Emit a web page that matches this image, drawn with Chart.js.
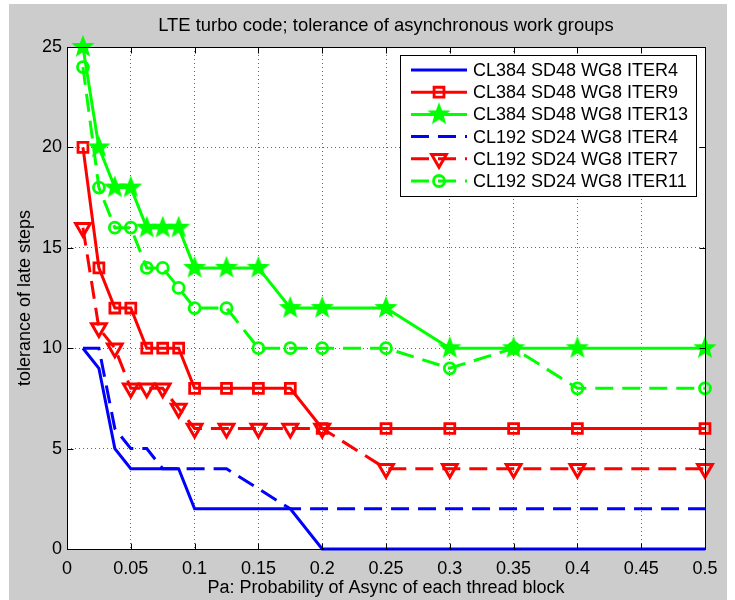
<!DOCTYPE html>
<html>
<head>
<meta charset="utf-8">
<script src="https://cdn.jsdelivr.net/npm/chart.js@4.4.0/dist/chart.umd.min.js"></script>
<style>
  body { margin: 0; background: #fff; }
  #wrap { width: 735px; height: 600px; }
</style>
</head>
<body>
<div id="wrap"><canvas id="lteChart" width="735" height="600"></canvas></div>
<script>
// probability values on the x axis
const pa = [0.0125, 0.025, 0.0375, 0.05, 0.0625, 0.075, 0.0875, 0.1, 0.125, 0.15, 0.175, 0.2, 0.25, 0.3, 0.35, 0.4, 0.5];

// tolerance of late steps, one list per configuration
const cl384Iter4  = [10, 9, 5, 4, 4, 4, 4, 2, 2, 2, 2, 0, 0, 0, 0, 0, 0];
const cl384Iter9  = [20, 14, 12, 12, 10, 10, 10, 8, 8, 8, 8, 6, 6, 6, 6, 6, 6];
const cl384Iter13 = [25, 20, 18, 18, 16, 16, 16, 14, 14, 14, 12, 12, 12, 10, 10, 10, 10];
const cl192Iter4  = [10, 10, 6, 5, 5, 4, 4, 4, 4, 3, 2, 2, 2, 2, 2, 2, 2];
const cl192Iter7  = [16, 11, 10, 8, 8, 8, 7, 6, 6, 6, 6, 6, 4, 4, 4, 4, 4];
const cl192Iter11 = [24, 18, 16, 16, 14, 14, 13, 12, 12, 10, 10, 10, 10, 9, 10, 8, 8];

const xTicks = [0, 0.05, 0.1, 0.15, 0.2, 0.25, 0.3, 0.35, 0.4, 0.45, 0.5];
const yTicks = [0, 5, 10, 15, 20, 25];

const titulo = 'LTE turbo code; tolerance of asynchronous work groups';
const FONT = 'Liberation Sans, Arial, Helvetica, sans-serif';
const dashes = [18, 9];

// filled five point star used as marker
function hacerEstrella(r, color) {
    const c = document.createElement('canvas');
    const s = Math.ceil(r * 2 + 4);
    c.width = s; c.height = s;
    const g = c.getContext('2d');
    g.beginPath();
    for (let i = 0; i < 10; i++) {
        const rad = i % 2 ? r * 0.42 : r;
        const a = -Math.PI / 2 + i * Math.PI / 5;
        g.lineTo(s / 2 + rad * Math.cos(a), s / 2 + rad * Math.sin(a));
    }
    g.closePath();
    g.fillStyle = color;
    g.fill();
    g.lineWidth = 1.5;
    g.strokeStyle = color;
    g.stroke();
    return c;
}
const estrella = hacerEstrella(10, '#00ff00');

function serie(label, values, color, dash, marker) {
    return Object.assign({
        label: label,
        data: values.map((v, i) => ({ x: pa[i], y: v })),
        borderColor: color,
        backgroundColor: color,
        borderWidth: 3,
        borderDash: dash,
        fill: false,
        tension: 0,
        clip: false,
        pointRadius: 0,
        pointBorderColor: color,
        pointBackgroundColor: 'rgba(0,0,0,0)',
        pointBorderWidth: 2.5
    }, marker);
}

const datasets = [
    serie('CL384 SD48 WG8 ITER4', cl384Iter4, '#0000ff', [], {}),
    serie('CL384 SD48 WG8 ITER9', cl384Iter9, '#ff0000', [], { pointStyle: 'rect', pointRadius: 7, pointBorderWidth: 2.8 }),
    serie('CL384 SD48 WG8 ITER13', cl384Iter13, '#00ff00', [], { pointStyle: estrella, pointRadius: 10 }),
    serie('CL192 SD24 WG8 ITER4', cl192Iter4, '#0000ff', dashes, {}),
    serie('CL192 SD24 WG8 ITER7', cl192Iter7, '#ff0000', dashes, { pointStyle: 'triangle', pointRadius: 8.5, pointRotation: 180, pointBorderWidth: 3 }),
    serie('CL192 SD24 WG8 ITER11', cl192Iter11, '#00ff00', dashes, { pointStyle: 'circle', pointRadius: 5.5, pointBorderWidth: 2.8 })
];
// later series on top, like the original
datasets.forEach((d, i) => d.order = datasets.length - i);

const fondo = {
    id: 'fondo',
    beforeDraw(chart) {
        const c = chart.ctx, a = chart.chartArea;
        c.save();
        c.fillStyle = '#ffffff';
        c.fillRect(0, 0, chart.width, chart.height);
        c.fillStyle = '#cccccc';
        c.fillRect(9, 4, 718, chart.height - 4);
        c.fillStyle = '#ffffff';
        c.fillRect(a.left, a.top, a.right - a.left, a.bottom - a.top);
        c.fillStyle = '#000';
        c.font = '18.4px ' + FONT;
        c.textAlign = 'center';
        c.textBaseline = 'middle';
        c.fillText(titulo, (a.left + a.right) / 2, 26);
        c.restore();
    }
};

const caja = {
    id: 'caja',
    afterDraw(chart) {
        const c = chart.ctx, a = chart.chartArea;
        const sx = chart.scales.x, sy = chart.scales.y;
        const L = Math.round(a.left) + 0.5, R = Math.round(a.right) + 0.5;
        const T = Math.round(a.top) + 0.5, B = Math.round(a.bottom) + 0.5;
        c.save();
        c.strokeStyle = '#000';
        c.lineWidth = 1;
        c.setLineDash([]);
        c.strokeRect(L, T, R - L, B - T);
        c.beginPath();
        xTicks.forEach(t => {
            const px = Math.round(sx.getPixelForValue(t)) + 0.5;
            c.moveTo(px, B); c.lineTo(px, B - 6);
            c.moveTo(px, T); c.lineTo(px, T + 6);
        });
        yTicks.forEach(t => {
            const py = Math.round(sy.getPixelForValue(t)) + 0.5;
            c.moveTo(L, py); c.lineTo(L + 6, py);
            c.moveTo(R, py); c.lineTo(R - 6, py);
        });
        c.stroke();

        // legend box inside the plot
        const bx = 400.5, by = 55.5, bw = 296, bh = 141;
        c.fillStyle = '#fff';
        c.fillRect(bx, by, bw, bh);
        c.strokeRect(bx, by, bw, bh);
        c.font = '18px ' + FONT;
        c.textBaseline = 'middle';
        c.textAlign = 'left';
        chart.data.datasets.forEach((d, i) => {
            const y = 70 + i * 22.2;
            c.save();
            c.strokeStyle = d.borderColor;
            c.lineWidth = d.borderWidth;
            c.setLineDash(d.borderDash);
            c.beginPath();
            c.moveTo(411, y); c.lineTo(467, y);
            c.stroke();
            c.restore();
            if (d.pointRadius > 0) {
                c.save();
                c.strokeStyle = d.pointBorderColor;
                c.fillStyle = d.pointBackgroundColor;
                c.lineWidth = d.pointBorderWidth;
                Chart.helpers.drawPoint(c, {
                    pointStyle: d.pointStyle,
                    radius: d.pointRadius,
                    rotation: d.pointRotation || 0,
                    borderWidth: d.pointBorderWidth
                }, 439, y);
                c.restore();
            }
            c.fillStyle = '#000';
            c.fillText(d.label, 473, y + 1);
        });
        c.restore();
    }
};

const ctx = document.getElementById('lteChart').getContext('2d');
const myChart = new Chart(ctx, {
    type: 'line',
    data: { datasets: datasets },
    plugins: [fondo, caja],
    options: {
        responsive: false,
        animation: false,
        devicePixelRatio: 1,
        layout: { padding: { left: 9, right: 30, top: 47, bottom: 0 } },
        plugins: {
            legend: { display: false },
            tooltip: { enabled: false },
            title: { display: false }
        },
        scales: {
            x: {
                type: 'linear',
                min: 0,
                max: 0.5,
                afterBuildTicks: s => { s.ticks = xTicks.map(v => ({ value: v })); },
                afterFit: s => { s.height = 51; },
                ticks: {
                    color: '#000',
                    padding: 9,
                    maxRotation: 0,
                    font: { family: FONT, size: 18 },
                    callback: v => String(Number(v.toFixed(2)))
                },
                grid: { color: 'rgba(0,0,0,0.6)', lineWidth: 1, drawTicks: false },
                border: { display: false, dash: [1, 3] },
                title: {
                    display: true,
                    text: 'Pa: Probability of Async of each thread block',
                    color: '#000',
                    font: { family: FONT, size: 18 },
                    padding: { top: 0, bottom: 1 }
                }
            },
            y: {
                min: 0,
                max: 25,
                afterBuildTicks: s => { s.ticks = yTicks.map(v => ({ value: v })); },
                afterFit: s => { s.width = 58; },
                ticks: {
                    color: '#000',
                    padding: 5,
                    font: { family: FONT, size: 18 }
                },
                grid: { color: 'rgba(0,0,0,0.6)', lineWidth: 1, drawTicks: false },
                border: { display: false, dash: [1, 3] },
                title: {
                    display: true,
                    text: 'tolerance of late steps',
                    color: '#000',
                    font: { family: FONT, size: 18 },
                    padding: { top: 5, bottom: 0 }
                }
            }
        }
    }
});
</script>
</body>
</html>
